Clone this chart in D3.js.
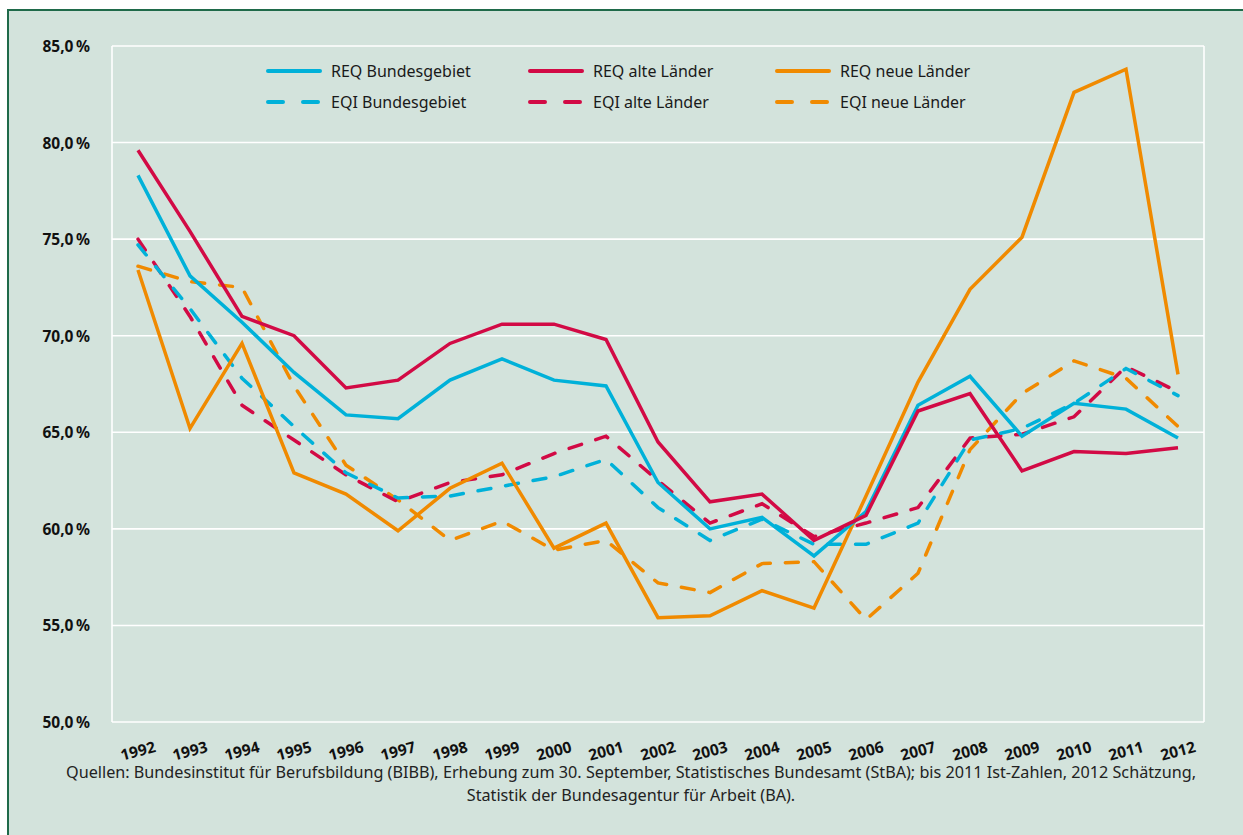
<!DOCTYPE html>
<html><head><meta charset="utf-8">
<script src="https://cdn.jsdelivr.net/npm/d3@7"></script>
<style>
html,body{margin:0;padding:0;background:#fff;}
svg{display:block;}
</style></head>
<body>
<svg id="chart" width="1243" height="835"></svg>
<script>
const years = ["1992","1993","1994","1995","1996","1997","1998","1999","2000","2001","2002","2003","2004","2005","2006","2007","2008","2009","2010","2011","2012"];
const reqBund = [78.3,73.1,70.7,68.1,65.9,65.7,67.7,68.8,67.7,67.4,62.4,60.0,60.6,58.6,60.9,66.4,67.9,64.8,66.5,66.2,64.7];
const reqAlt  = [79.6,75.4,71.0,70.0,67.3,67.7,69.6,70.6,70.6,69.8,64.5,61.4,61.8,59.4,60.7,66.1,67.0,63.0,64.0,63.9,64.2];
const reqNeu  = [73.4,65.2,69.6,62.9,61.8,59.9,62.1,63.4,59.0,60.3,55.4,55.5,56.8,55.9,61.7,67.6,72.4,75.1,82.6,83.8,68.0];
const eqiBund = [74.7,71.4,67.8,65.3,62.9,61.6,61.7,62.2,62.7,63.6,61.1,59.4,60.5,59.2,59.2,60.3,64.6,65.2,66.5,68.3,66.9];
const eqiAlt  = [75.0,71.0,66.4,64.6,62.8,61.4,62.4,62.8,63.9,64.8,62.5,60.3,61.3,59.6,60.3,61.1,64.7,64.9,65.8,68.4,67.1];
const eqiNeu  = [73.6,72.8,72.5,67.4,63.3,61.5,59.4,60.4,58.9,59.4,57.2,56.7,58.2,58.3,55.3,57.7,64.1,67.0,68.7,67.8,65.3];
const yTicks = [50,55,60,65,70,75,80,85];
const seriesNames = ["REQ Bundesgebiet","REQ alte Länder","REQ neue Länder","EQI Bundesgebiet","EQI alte Länder","EQI neue Länder"];
const footerLines = ["Quellen: Bundesinstitut für Berufsbildung (BIBB), Erhebung zum 30. September, Statistisches Bundesamt (StBA); bis 2011 Ist-Zahlen, 2012 Schätzung,",
                     "Statistik der Bundesagentur für Arbeit (BA)."];

const BLUE = "#00b1d9", RED = "#d20a45", ORANGE = "#f08a00";
const series = [
  {name: seriesNames[5], values: eqiNeu,  color: ORANGE, dashed: true},
  {name: seriesNames[4], values: eqiAlt,  color: RED,    dashed: true},
  {name: seriesNames[3], values: eqiBund, color: BLUE,   dashed: true},
  {name: seriesNames[2], values: reqNeu,  color: ORANGE, dashed: false},
  {name: seriesNames[0], values: reqBund, color: BLUE,   dashed: false},
  {name: seriesNames[1], values: reqAlt,  color: RED,    dashed: false}
];
const legendItems = [
  {name: seriesNames[0], color: BLUE, dashed:false, col:0, row:0},
  {name: seriesNames[1], color: RED, dashed:false, col:1, row:0},
  {name: seriesNames[2], color: ORANGE, dashed:false, col:2, row:0},
  {name: seriesNames[3], color: BLUE, dashed:true, col:0, row:1},
  {name: seriesNames[4], color: RED, dashed:true, col:1, row:1},
  {name: seriesNames[5], color: ORANGE, dashed:true, col:2, row:1}
];

const svg = d3.select("#chart");
const FONT = "'Noto Sans', 'Open Sans', sans-serif";

// background panel
svg.append("rect").attr("x",8).attr("y",10).attr("width",1300).attr("height",900)
  .attr("fill","#d3e3dc").attr("stroke","#1f6a4a").attr("stroke-width",2);

const L = 112, R = 1204, T = 46, B = 722;
const x = d3.scalePoint().domain(years).range([L, R]).padding(0.5);
const y = d3.scaleLinear().domain([50, 85]).range([B, T]);

// gridlines
const grid = svg.append("g").attr("class","grid");
grid.selectAll("line.h").data(yTicks).join("line").attr("class","h")
  .attr("x1", L).attr("x2", R).attr("y1", d => y(d)).attr("y2", d => y(d))
  .attr("stroke","#ffffff").attr("stroke-width",1.6);
grid.selectAll("line.v").data([L, R]).join("line").attr("class","v")
  .attr("x1", d => d).attr("x2", d => d).attr("y1", T).attr("y2", B)
  .attr("stroke","#ffffff").attr("stroke-width",1.6);

// y axis labels
const yAxis = d3.axisLeft(y).tickValues(yTicks)
  .tickFormat(d => d3.format(".1f")(d).replace(".", ",") + "\u202F%")
  .tickSize(0).tickPadding(0);
const yg = svg.append("g").attr("transform", `translate(90,0)`).call(yAxis);
yg.select(".domain").remove();
yg.selectAll("text").attr("font-family", FONT).attr("font-size", 15.5).attr("font-weight", 700)
  .attr("fill","#111").attr("dy","0.35em");

// x axis labels
const xAxis = d3.axisBottom(x).tickSize(0).tickPadding(0);
const xg = svg.append("g").call(xAxis);
xg.select(".domain").remove();
xg.selectAll(".tick").attr("transform", d => `translate(${x(d)},751)`);
xg.selectAll("text").attr("font-family", FONT).attr("font-size", 15.5).attr("font-weight", 700)
  .attr("fill","#111").attr("y",0).attr("dy","0.35em").attr("text-anchor","middle")
  .attr("transform","rotate(-15)");

// lines
const line = d3.line().x((d,i) => x(years[i])).y(d => y(d));
svg.append("g").selectAll("path").data(series).join("path")
  .attr("d", d => line(d.values))
  .attr("fill","none").attr("stroke", d => d.color).attr("stroke-width", 3.5)
  .attr("stroke-linejoin","miter").attr("stroke-linecap", d => d.dashed ? "round" : "butt")
  .attr("stroke-dasharray", d => d.dashed ? "13,15" : null);

// legend
const colX = [266, 528, 775];
const rowY = [71, 102];
const lg = svg.append("g").selectAll("g").data(legendItems).join("g")
  .attr("transform", d => `translate(${colX[d.col]},${rowY[d.row]})`);
lg.append("line").attr("x1",2).attr("x2",54).attr("y1",0).attr("y2",0)
  .attr("stroke", d => d.color).attr("stroke-width", 4).attr("stroke-linecap","round")
  .attr("stroke-dasharray", d => d.dashed ? "15,20" : null);
lg.append("text").attr("x",65).attr("y",0).attr("dy","0.35em").text(d => d.name)
  .attr("font-family", FONT).attr("font-size", 16).attr("fill","#1a1a1a");

// footer
svg.append("g").selectAll("text").data(footerLines).join("text")
  .attr("x", 631).attr("y", (d,i) => 772 + i*23).attr("dy","0.35em")
  .attr("text-anchor","middle").text(d => d)
  .attr("font-family", FONT).attr("font-size", 16.2).attr("fill","#222");
</script>
</body></html>
